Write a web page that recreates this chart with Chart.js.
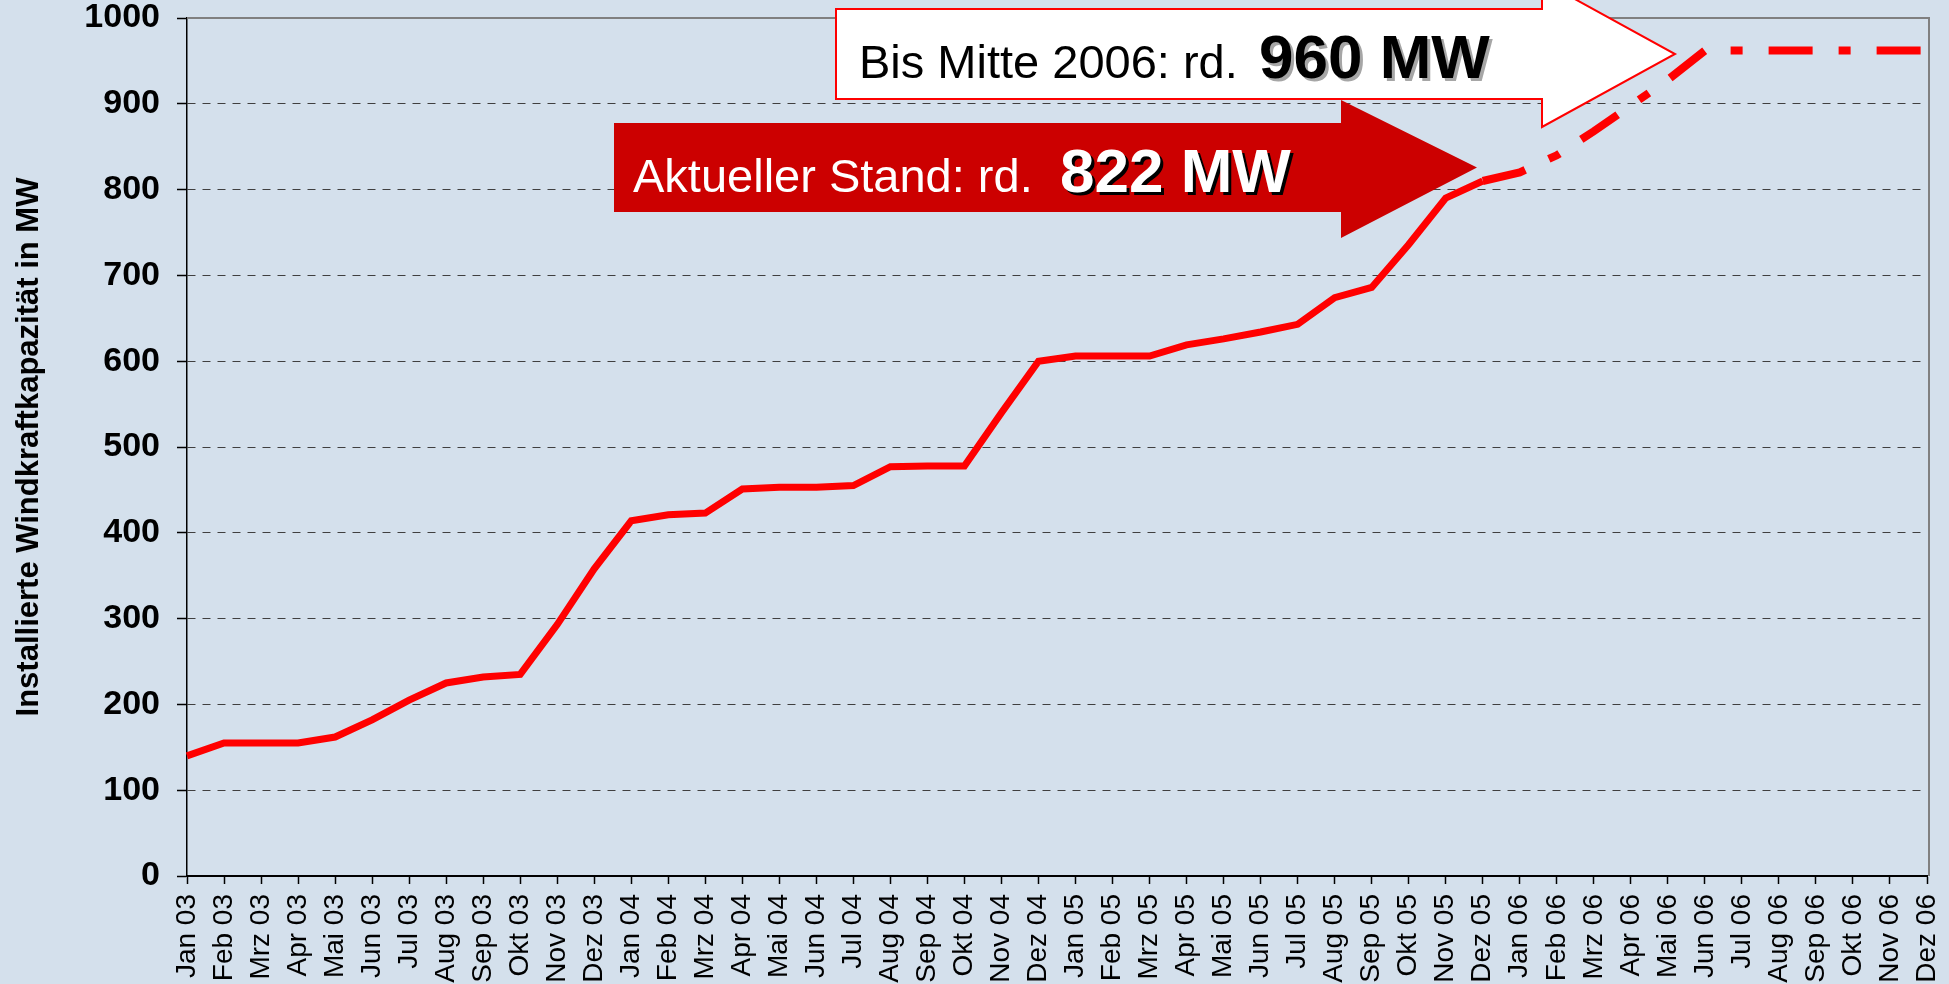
<!DOCTYPE html>
<html lang="de">
<head>
<meta charset="utf-8">
<title>Installierte Windkraftkapazität</title>
<script src="https://cdn.jsdelivr.net/npm/chart.js@4.4.1/dist/chart.umd.min.js"></script>
<style>
  html, body { margin: 0; padding: 0; background: #d4e0ec; overflow: hidden; }
  #chart { display: block; }
</style>
</head>
<body>
<canvas id="chart" width="1949" height="984"></canvas>
<script>
// Monate (x-Achse)
const monate = [
  'Jan 03', 'Feb 03', 'Mrz 03', 'Apr 03', 'Mai 03', 'Jun 03', 'Jul 03', 'Aug 03', 'Sep 03', 'Okt 03', 'Nov 03', 'Dez 03',
  'Jan 04', 'Feb 04', 'Mrz 04', 'Apr 04', 'Mai 04', 'Jun 04', 'Jul 04', 'Aug 04', 'Sep 04', 'Okt 04', 'Nov 04', 'Dez 04',
  'Jan 05', 'Feb 05', 'Mrz 05', 'Apr 05', 'Mai 05', 'Jun 05', 'Jul 05', 'Aug 05', 'Sep 05', 'Okt 05', 'Nov 05', 'Dez 05',
  'Jan 06', 'Feb 06', 'Mrz 06', 'Apr 06', 'Mai 06', 'Jun 06', 'Jul 06', 'Aug 06', 'Sep 06', 'Okt 06', 'Nov 06', 'Dez 06'
];

// installierte Leistung in MW, Jan 03 bis Dez 05
const istWerte = [
  140, 155, 155, 155, 162, 182, 205, 225, 232, 235, 293, 358,
  414, 421, 423, 451, 453, 453, 455, 477, 478, 478, 540, 600,
  606, 606, 606, 619, 626, 634, 643, 674, 686, 736, 790, 810
];

// Ausbauplanung, Dez 05 bis Dez 06
const prognoseStart = 'Dez 05';
const prognoseWerte = [810, 820, 840, 868, 898, 928, 962, 962, 962, 962, 962, 962, 962];

const yMin = 0;
const yMax = 1000;
const yStep = 100;

const FONT = '"Liberation Sans", Arial, Helvetica, sans-serif';

const startIdx = monate.indexOf(prognoseStart);
const istDaten = monate.map((m, i) => i < istWerte.length ? istWerte[i] : null);
const prognoseDaten = monate.map((m, i) => i >= startIdx ? prognoseWerte[i - startIdx] : null);

// Rahmen oben und rechts (grau)
const rahmenPlugin = {
  id: 'rahmen',
  beforeDatasetsDraw(chart) {
    const { ctx, chartArea: a } = chart;
    ctx.save();
    ctx.strokeStyle = '#808080';
    ctx.lineWidth = 2;
    ctx.beginPath();
    ctx.moveTo(a.left, a.top);
    ctx.lineTo(a.right + 2, a.top);
    ctx.lineTo(a.right + 2, a.bottom);
    ctx.stroke();
    ctx.restore();
  }
};

// die beiden Pfeile mit Text
const pfeilPlugin = {
  id: 'pfeile',
  afterDatasetsDraw(chart) {
    const ctx = chart.ctx;
    ctx.save();

    // roter Pfeil
    ctx.fillStyle = '#cc0000';
    ctx.beginPath();
    ctx.moveTo(614, 123);
    ctx.lineTo(1341, 123);
    ctx.lineTo(1341, 100);
    ctx.lineTo(1477, 167.5);
    ctx.lineTo(1341, 238);
    ctx.lineTo(1341, 212);
    ctx.lineTo(614, 212);
    ctx.closePath();
    ctx.fill();

    // weißer Pfeil
    ctx.fillStyle = '#ffffff';
    ctx.strokeStyle = '#ff0000';
    ctx.lineWidth = 2;
    ctx.beginPath();
    ctx.moveTo(836, 9);
    ctx.lineTo(1542, 9);
    ctx.lineTo(1542, -19);
    ctx.lineTo(1675, 54);
    ctx.lineTo(1542, 127);
    ctx.lineTo(1542, 99);
    ctx.lineTo(836, 99);
    ctx.closePath();
    ctx.fill();
    ctx.stroke();

    ctx.textBaseline = 'alphabetic';
    ctx.textAlign = 'left';

    ctx.fillStyle = '#ffffff';
    ctx.font = '47px ' + FONT;
    ctx.fillText('Aktueller Stand: rd.', 633, 192);
    ctx.font = 'bold 62px ' + FONT;
    ctx.fillStyle = '#000000';
    ctx.fillText('822 MW', 1063, 195);
    ctx.fillStyle = '#ffffff';
    ctx.fillText('822 MW', 1060, 192);

    ctx.fillStyle = '#000000';
    ctx.font = '47px ' + FONT;
    ctx.fillText('Bis Mitte 2006: rd.', 859, 78);
    ctx.font = 'bold 62px ' + FONT;
    ctx.fillStyle = '#a6a6a6';
    ctx.fillText('960 MW', 1262, 81);
    ctx.fillStyle = '#000000';
    ctx.fillText('960 MW', 1259, 78);

    ctx.restore();
  }
};

new Chart(document.getElementById('chart'), {
  type: 'line',
  data: {
    labels: monate,
    datasets: [
      {
        label: 'Installierte Leistung',
        data: istDaten,
        borderColor: '#ff0000',
        borderWidth: 7,
        pointRadius: 0,
        tension: 0,
        fill: false
      },
      {
        label: 'Prognose',
        data: prognoseDaten,
        borderColor: '#ff0000',
        borderWidth: 8,
        borderDash: [44, 26, 12, 26],
        pointRadius: 0,
        tension: 0,
        fill: false
      }
    ]
  },
  options: {
    responsive: false,
    animation: false,
    devicePixelRatio: 1,
    layout: { padding: { top: 18, right: 22, left: 0, bottom: 0 } },
    plugins: {
      legend: { display: false },
      tooltip: { enabled: false }
    },
    scales: {
      x: {
        grid: {
          drawOnChartArea: false,
          drawTicks: true,
          tickLength: 8,
          tickColor: '#000000',
          tickWidth: 1.5
        },
        border: { color: '#000000', width: 2 },
        ticks: {
          autoSkip: false,
          maxRotation: 90,
          minRotation: 90,
          padding: 10,
          color: '#000000',
          font: { family: FONT, size: 28 }
        },
        afterFit(scale) {
          scale.height = 108;
          scale.paddingLeft = 0;
          scale.paddingRight = 0;
        }
      },
      y: {
        min: yMin,
        max: yMax,
        grid: {
          color: ctx => (ctx.tick && (ctx.tick.value === yMin || ctx.tick.value === yMax)) ? 'rgba(0,0,0,0)' : '#404040',
          lineWidth: 1,
          tickLength: 10,
          tickColor: '#000000',
          tickWidth: 1.5
        },
        border: { color: '#000000', width: 1.5, dash: [8, 7] },
        ticks: {
          stepSize: yStep,
          padding: 17,
          color: '#000000',
          font: { family: FONT, size: 34, weight: 'bold', lineHeight: 1.05 },
          callback: v => String(v)
        },
        title: {
          display: true,
          text: 'Installierte Windkraftkapazität in MW',
          color: '#000000',
          font: { family: FONT, size: 31, weight: 'bold' },
          padding: { top: 11, bottom: 0 }
        },
        afterFit(scale) {
          scale.width = 187;
          scale.paddingTop = 0;
          scale.paddingBottom = 0;
        }
      }
    }
  },
  plugins: [rahmenPlugin, pfeilPlugin]
});
</script>
</body>
</html>
